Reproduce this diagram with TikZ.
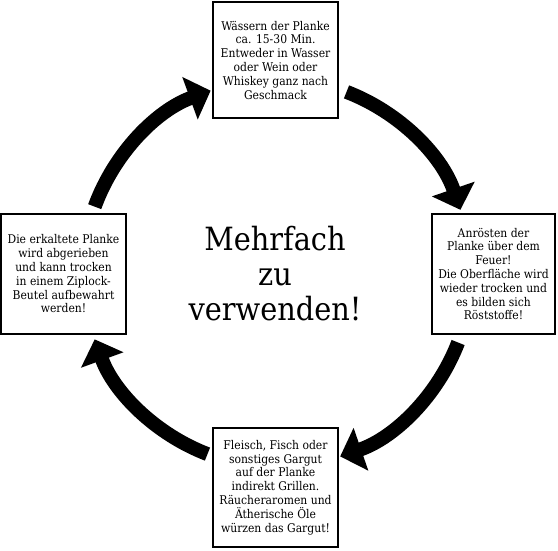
\documentclass[tikz,border=0pt]{standalone}
\usepackage{fontspec}
\setmainfont{DejaVu Serif Condensed}
\usetikzlibrary{arrows.meta,calc}
\begin{document}
\begin{tikzpicture}[x=1pt,y=1pt,
  stepbox/.style={draw=black,line width=2pt,fill=white,inner sep=0pt,
    font=\fontsize{12}{13.8}\selectfont,align=center},
  cyclearrow/.style={line width=14pt,-{Triangle[width=44pt,length=22pt]}},
  centertext/.style={font=\fontsize{32}{35}\selectfont,align=center}]
\useasboundingbox (0,0) rectangle (558,550);
\node[stepbox,minimum width=125pt,minimum height=116pt] (top) at (275.5,490)
  {Wässern der Planke\\ca. 15-30 Min.\\Entweder in Wasser\\oder Wein oder\\Whiskey ganz nach\\Geschmack};
\node[stepbox,minimum width=123pt,minimum height=120pt] (right) at (493.5,276)
  {Anrösten der\\Planke über dem\\Feuer!\\Die Oberfläche wird\\wieder trocken und\\es bilden sich\\Röststoffe!};
\node[stepbox,minimum width=125pt,minimum height=119pt] (bottom) at (275.5,62.5)
  {Fleisch, Fisch oder\\sonstiges Gargut\\auf der Planke\\indirekt Grillen.\\Räucheraromen und\\Ätherische Öle\\würzen das Gargut!};
\node[stepbox,minimum width=125pt,minimum height=120pt] (left) at (63.5,276)
  {Die erkaltete Planke\\wird abgerieben\\und kann trocken\\in einem Ziplock-\\Beutel aufbewahrt\\werden!};
\node[centertext] (mid) at (275,276) {Mehrfach\\zu\\verwenden!};
\coordinate (O) at (277,277);
\coordinate (a1) at ($(O)+(160:194)$);
\coordinate (a2) at ($(O)+(69:194)$);
\coordinate (a3) at ($(O)+(-21:194)$);
\coordinate (a4) at ($(O)+(-111:194)$);
\draw[cyclearrow] (a1) arc[start angle=160,end angle=110,radius=194];
\draw[cyclearrow] (a2) arc[start angle=69,end angle=19,radius=194];
\draw[cyclearrow] (a3) arc[start angle=-21,end angle=-71,radius=194];
\draw[cyclearrow] (a4) arc[start angle=-111,end angle=-160,radius=194];
\end{tikzpicture}
\end{document}
